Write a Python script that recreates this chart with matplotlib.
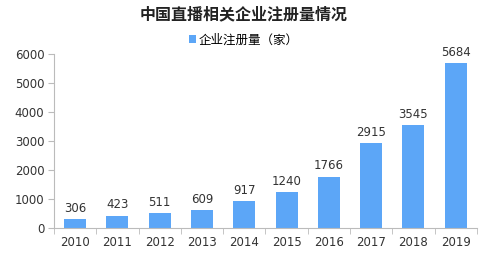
import matplotlib
matplotlib.use("Agg")
import matplotlib.pyplot as plt
import numpy as np

plt.rcParams['font.family'] = ['Noto Sans CJK SC', 'DejaVu Sans']

years = ['2010', '2011', '2012', '2013', '2014', '2015', '2016', '2017', '2018', '2019']
values = [306, 423, 511, 609, 917, 1240, 1766, 2915, 3545, 5684]
yticks = [0, 1000, 2000, 3000, 4000, 5000, 6000]

fig = plt.figure(figsize=(4.87, 2.58), dpi=100)
ax = fig.add_axes([0.111, 0.116, 0.868, 0.675])
x = np.arange(len(years))
bars = ax.bar(x, values, width=0.52, color='#5CA6F7', label='企业注册量（家）', zorder=2)
for xi, v in zip(x, values):
    ax.text(xi, v + 150, str(v), ha='center', va='bottom', fontsize=8.5, color='#333333',
            family='DejaVu Sans')

ax.set_xlim(-0.5, len(years) - 0.5)
ax.set_ylim(0, 6000)
ax.set_yticks(yticks)
ax.set_yticklabels([str(t) for t in yticks], fontsize=8.5, color='#333333', family='DejaVu Sans')
ax.set_xticks(x)
ax.set_xticklabels(years, fontsize=8.5, color='#333333', family='DejaVu Sans')
ax.set_xticks(np.arange(len(years) + 1) - 0.5, minor=True)
ax.tick_params(axis='x', which='major', length=0, pad=6)
ax.tick_params(axis='x', which='minor', length=4, color='#BBBBBB', direction='out')
ax.tick_params(axis='y', length=4, color='#BBBBBB', direction='out', pad=3)
for s in ['top', 'right']:
    ax.spines[s].set_visible(False)
for s in ['left', 'bottom']:
    ax.spines[s].set_color('#BBBBBB')
    ax.spines[s].set_linewidth(0.8)

fig.text(0.5, 0.945, '中国直播相关企业注册量情况', ha='center', va='center', fontsize=11.5,
         fontweight='bold', color='#222222')
fig.legend(handles=[bars], labels=['企业注册量（家）'], loc='center', bbox_to_anchor=(0.5, 0.845),
           frameon=False, fontsize=9, handlelength=0.6, handleheight=0.6, handletextpad=0.2)

fig.savefig('out.png', dpi=100)
